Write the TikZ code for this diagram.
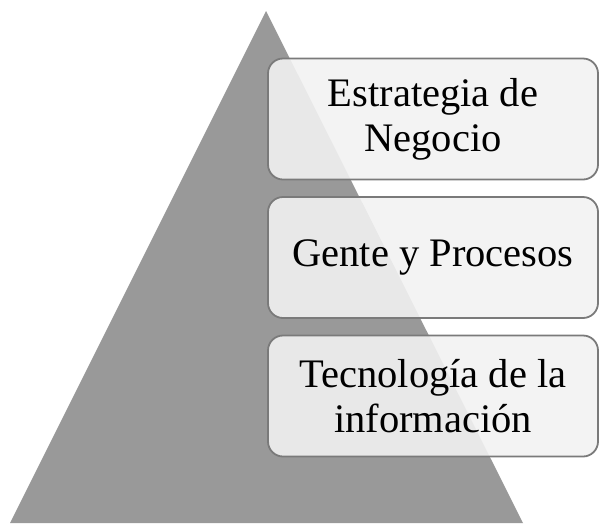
\documentclass[tikz,border=0pt]{standalone}
\usepackage{fontspec}
\setmainfont{Liberation Serif}
\begin{document}
\begin{tikzpicture}[x=1pt,y=-1pt,
  layerbox/.style={draw=black!52, line width=1.8pt, rounded corners=15pt,
    fill=black!5, fill opacity=0.89, text opacity=1,
    minimum width=330pt, minimum height=121pt, align=center,
    font=\fontsize{40.5pt}{45pt}\selectfont, inner sep=0pt}]
\useasboundingbox (0,0) rectangle (600,523);
\fill[fill=black!40] (10,523) -- (266,11) -- (523,523) -- cycle;
\node[layerbox] (b1) at (433,119) {Estrategia de\\Negocio};
\node[layerbox] (b2) at (433,257.5) {Gente y Procesos};
\node[layerbox] (b3) at (433,396) {Tecnología de la\\información};
\end{tikzpicture}
\end{document}
